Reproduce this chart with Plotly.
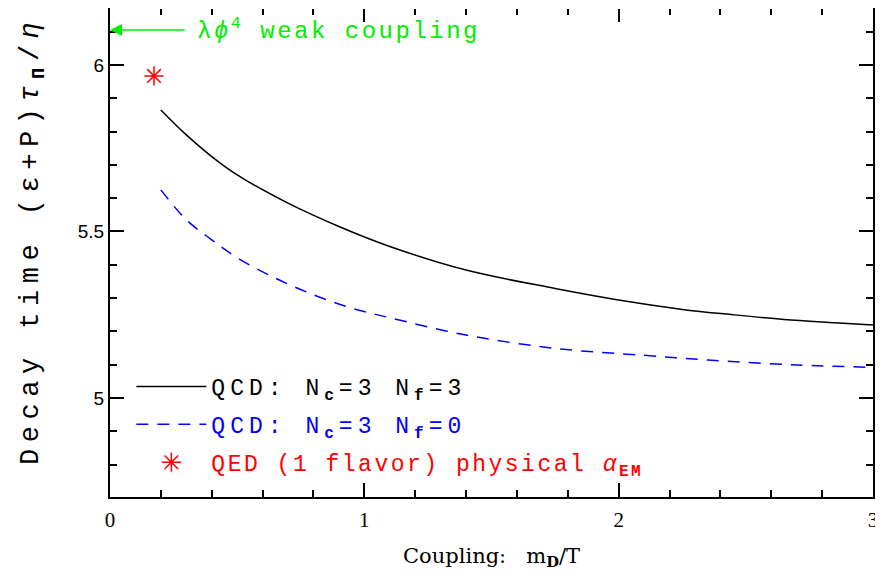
import plotly.graph_objects as go

# QCD Nc=3 Nf=3 (solid black)
x_nf3 = [0.2, 0.3, 0.4, 0.5, 0.7, 0.9, 1.1, 1.4, 1.75, 2.05, 2.25, 2.45, 2.65, 2.85, 3.0]
y_nf3 = [5.865, 5.79, 5.725, 5.67, 5.585, 5.515, 5.455, 5.384, 5.329, 5.288, 5.266, 5.25, 5.236, 5.226, 5.219]

# QCD Nc=3 Nf=0 (dashed blue)
x_nf0 = [0.2, 0.3, 0.4, 0.5, 0.65, 0.8, 0.95, 1.1, 1.4, 1.75, 2.1, 2.35, 2.7, 3.0]
y_nf0 = [5.625, 5.535, 5.475, 5.421, 5.36, 5.31, 5.27, 5.241, 5.189, 5.149, 5.128, 5.114, 5.099, 5.092]

# QED (1 flavor) physical alpha_EM
x_qed = [0.173]
y_qed = [5.967]

# lambda phi^4 weak coupling value
phi4_value = 6.105

x_ticks = [0, 1, 2, 3]
y_ticks = [5, 5.5, 6]
y_tick_text = ["5", "5.5", "6"]

MONO = "Liberation Mono"

fig = go.Figure()
fig.add_trace(go.Scatter(
    x=x_nf3, y=y_nf3, mode="lines", line=dict(color="black", width=1.5, shape="spline"),
    name="<span style='letter-spacing:5px'>QCD: N<sub><b>c</b></sub>=3 N<sub><b>f</b></sub>=3</span>",
    legendgroup="a"))
fig.add_trace(go.Scatter(
    x=x_nf0, y=y_nf0, mode="lines", line=dict(color="blue", width=1.5, dash="12px,9px", shape="spline"),
    name="<span style='letter-spacing:5px;fill:blue'>QCD: N<sub><b>c</b></sub>=3 N<sub><b>f</b></sub>=0</span>",
    legendgroup="b"))
fig.add_trace(go.Scatter(
    x=x_qed, y=y_qed, mode="markers",
    marker=dict(symbol="asterisk-open", size=16, color="red", line=dict(color="red", width=1.5)),
    name="<span style='letter-spacing:2.5px;fill:red'>QED (1 flavor) physical <i>α</i><sub><b>EM</b></sub></span>",
    legendgroup="c"))

fig.add_annotation(
    x=0, y=phi4_value, xref="x", yref="y", ax=0.30, ay=phi4_value, axref="x", ayref="y",
    showarrow=True, arrowhead=2, arrowsize=1.6, arrowwidth=1.5, arrowcolor="#00ee00", text="")
fig.add_annotation(
    x=0.334, y=phi4_value, xref="x", yref="y", xanchor="left", yanchor="middle", showarrow=False,
    text="<span style='letter-spacing:2.5px'>λ<i>ϕ</i><sup>4</sup> weak coupling</span>",
    font=dict(family=MONO, size=24, color="#00ee00"))

# y-axis title as a rotated annotation
fig.add_annotation(
    x=-0.101, y=0.5256, xref="paper", yref="paper", xanchor="center", yanchor="middle",
    showarrow=False, textangle=-90,
    text="<span style='letter-spacing:6.5px'>Decay time (ε+P)<i>τ</i><sub><b>Π</b></sub>/<i>η</i></span>",
    font=dict(family=MONO, size=27, color="black"))

# hide the top frame line (the reference frame top lies outside the picture)
fig.add_shape(type="line", xref="paper", yref="paper", x0=0.0015, x1=0.9985, y0=1.003, y1=1.003,
              line=dict(color="white", width=5), layer="above")

major = dict(tickmode="array", ticks="inside", ticklen=14, tickwidth=2, tickcolor="black")
minor_x = dict(tickmode="linear", dtick=0.2, tick0=0, ticks="inside", ticklen=7, tickwidth=1.5, tickcolor="black", showgrid=False)
minor_y = dict(tickmode="linear", dtick=0.1, tick0=5, ticks="inside", ticklen=7, tickwidth=1.5, tickcolor="black", showgrid=False)

fig.update_layout(
    width=883, height=586,
    margin=dict(l=102, r=18, t=0, b=97),
    paper_bgcolor="white", plot_bgcolor="white",
    showlegend=True,
    legend=dict(x=0.028, y=0.27, xanchor="left", yanchor="top", bgcolor="rgba(0,0,0,0)",
                font=dict(family=MONO, size=23, color="black"), tracegroupgap=5,
                itemwidth=70),
    xaxis=dict(range=[0, 3], tickvals=x_ticks, ticktext=[str(v) for v in x_ticks],
               showgrid=False, zeroline=False, showline=True, linewidth=2, linecolor="black",
               mirror="ticks", automargin=False, **major, minor=minor_x,
               ticklabelstandoff=3,
               tickfont=dict(family="Liberation Serif", size=21, color="black"),
               title=dict(text="Coupling:\u00a0\u00a0 m<sub><b>D</b></sub>/T",
                          font=dict(family="DejaVu Serif", size=21, color="black"), standoff=17)),
    yaxis=dict(range=[4.7027, 6.171], tickvals=y_ticks, ticktext=y_tick_text,
               showgrid=False, zeroline=False, showline=True, linewidth=2, linecolor="black",
               mirror="ticks", automargin=False, **major, minor=minor_y,
               tickfont=dict(family="Liberation Sans", size=19, color="black")),
)

fig.write_html("out.html")
